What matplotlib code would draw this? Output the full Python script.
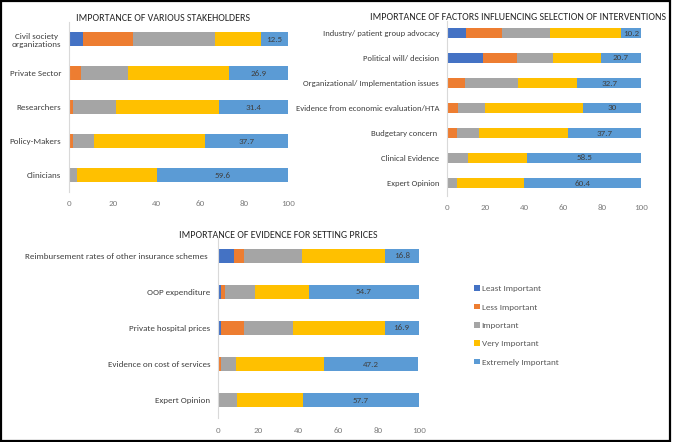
"""
Three stacked horizontal bar charts: importance ratings (%)
"""
import numpy as np
import matplotlib
matplotlib.use("Agg")
import matplotlib.pyplot as plt
from matplotlib.patches import Rectangle

plt.rcParams['font.family'] = ['Carlito', 'Liberation Sans', 'DejaVu Sans']

# ----------------------------------------------------------------------------
# Data (percent of respondents)
# ----------------------------------------------------------------------------

levels = ["Least Important", "Less Important", "Important",
          "Very Important", "Extremely Important"]
colors = ["#4472C4", "#ED7D31", "#A5A5A5", "#FFC000", "#5B9BD5"]

# chart 1
stake_cats = ["Civil society\norganizations", "Private Sector", "Researchers",
              "Policy-Makers", "Clinicians"]
stake_least = [6.2, 0, 0, 0, 0]
stake_less = [22.9, 5.6, 1.8, 1.8, 0]
stake_imp = [37.6, 21.2, 19.7, 9.5, 3.8]
stake_very = [20.8, 46.3, 47.1, 50.8, 36.6]
stake_ext = [12.5, 26.9, 31.4, 37.7, 59.6]

# chart 2
fact_cats = ["Industry/ patient group advocacy", "Political will/ decision",
             "Organizational/ Implementation issues",
             "Evidence from economic evaluation/HTA", "Budgetary concern ",
             "Clinical Evidence", "Expert Opinion"]
fact_least = [9.9, 18.9, 0, 0, 0, 0, 0]
fact_less = [18.7, 17.1, 9.4, 5.8, 5.3, 0, 0]
fact_imp = [24.5, 18.9, 27.3, 14.1, 11.5, 11.1, 5.3]
fact_very = [36.7, 24.4, 30.6, 50.1, 45.5, 30.4, 34.3]
fact_ext = [10.2, 20.7, 32.7, 30, 37.7, 58.5, 60.4]

# chart 3
price_cats = ["Reimbursement rates of other insurance schemes ", "OOP expenditure",
              "Private hospital prices", "Evidence on cost of services",
              "Expert Opinion"]
price_least = [8.3, 1.7, 1.7, 0, 0]
price_less = [4.8, 1.9, 11.4, 1.8, 0]
price_imp = [28.7, 15.1, 24.4, 7.5, 9.5]
price_very = [41.4, 26.6, 45.6, 43.4, 32.8]
price_ext = [16.8, 54.7, 16.9, 47.2, 57.7]

xticks = [0, 20, 40, 60, 80, 100]

W, H = 673, 442


def px_axes(fig, left, top, width, height):
    # axes placed with pixel coordinates measured from the top-left corner
    return fig.add_axes([left / W, (H - top - height) / H, width / W, height / H])


def stacked(ax, cats, series, bar_h, label_size=7, tick_size=6.5):
    y = np.arange(len(cats))
    left = np.zeros(len(cats))
    for vals, c, name in zip(series, colors, levels):
        vals = np.array(vals, dtype=float)
        ax.barh(y, vals, left=left, height=bar_h, color=c, label=name, linewidth=0)
        left += vals
    # value labels on the last segment
    ext = np.array(series[-1], dtype=float)
    for yi, l, v in zip(y, left, ext):
        ax.text(l - v / 2, yi, f"{v:g}", ha="center", va="center",
                fontsize=6.5, color="#404040")
    ax.set_ylim(len(cats) - 0.5, -0.5)
    ax.set_xlim(0, 100)
    ax.set_yticks(y)
    ax.set_yticklabels(cats, fontsize=label_size, color="#404040",
                       multialignment="center")
    ax.set_xticks(xticks)
    ax.set_xticklabels([str(t) for t in xticks], fontsize=tick_size, color="#7F7F7F")
    ax.tick_params(axis="both", length=0)
    ax.tick_params(axis="y", pad=5.5)
    ax.tick_params(axis="x", pad=6)
    for s in ["top", "right", "bottom"]:
        ax.spines[s].set_visible(False)
    ax.spines["left"].set_color("#D9D9D9")
    ax.spines["left"].set_linewidth(0.8)


fig = plt.figure(figsize=(W / 100, H / 100), dpi=100)

ax1 = px_axes(fig, 69, 22, 219, 170)
stacked(ax1, stake_cats,
        [stake_least, stake_less, stake_imp, stake_very, stake_ext], 0.43,
        label_size=6.5)
fig.text(163 / W, 1 - 18.5 / H, "IMPORTANCE OF VARIOUS STAKEHOLDERS",
         ha="center", va="center", fontsize=7.2, color="#262626")

ax2 = px_axes(fig, 446.7, 20.5, 194.3, 175)
stacked(ax2, fact_cats,
        [fact_least, fact_less, fact_imp, fact_very, fact_ext], 0.37,
        label_size=6.2)
fig.text(518 / W, 1 - 17 / H,
         "IMPORTANCE OF FACTORS INFLUENCING SELECTION OF INTERVENTIONS",
         ha="center", va="center", fontsize=7.2, color="#262626")

ax3 = px_axes(fig, 217.7, 237.6, 201, 180.8)
stacked(ax3, price_cats,
        [price_least, price_less, price_imp, price_very, price_ext], 0.39,
        label_size=6.5)
fig.text(278 / W, 1 - 235.7 / H, "IMPORTANCE OF EVIDENCE FOR SETTING PRICES",
         ha="center", va="center", fontsize=7.2, color="#262626")

# legend built from the bar handles of chart 3
handles, labels = ax3.get_legend_handles_labels()
fig.legend(handles, labels, loc="upper left",
           bbox_to_anchor=(466 / W, 1 - 277 / H), frameon=False,
           fontsize=6.6, labelcolor="#595959", handlelength=0.6,
           handleheight=0.6, handletextpad=0.2, labelspacing=1.22)

# black frame around the whole figure
fig.patches.append(Rectangle((0.002, 0.003), 0.994, 0.994, transform=fig.transFigure,
                             fill=False, edgecolor="black", linewidth=1.6))

fig.savefig("out.png", dpi=100)
